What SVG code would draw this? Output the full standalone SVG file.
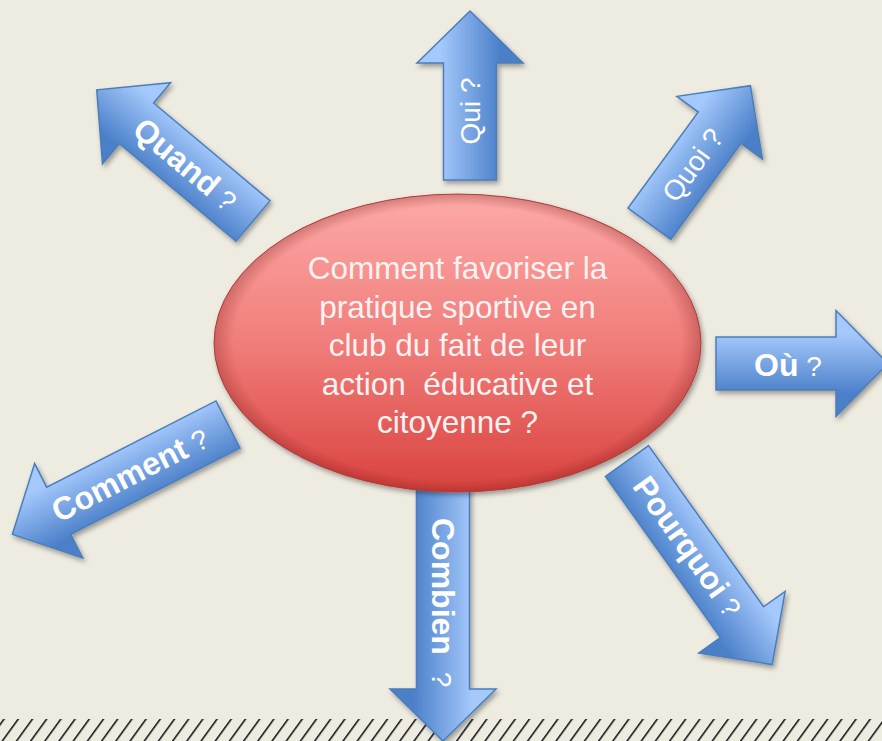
<svg xmlns="http://www.w3.org/2000/svg" width="882" height="741" viewBox="0 0 882 741">
  <defs>
    <style>
      text { font-family: "Liberation Sans", Arial, sans-serif; fill: #ffffff; }
      .lbl { font-size: 28px; }
      .b { font-size: 32px; font-weight: bold; }
      .ctr { font-size: 31.5px; fill: #fdf2f2; text-anchor: middle; }
      .arr { stroke: #4a7ebb; stroke-width: 1.5; stroke-linejoin: miter; }
    </style>
    <linearGradient id="gA" gradientUnits="userSpaceOnUse" x1="0" y1="-30" x2="0" y2="30">
      <stop offset="0" stop-color="#a5c9fc"/>
      <stop offset="1" stop-color="#4b80c9"/>
    </linearGradient>
    <linearGradient id="gB" gradientUnits="userSpaceOnUse" x1="0" y1="-30" x2="0" y2="30">
      <stop offset="0" stop-color="#4b80c9"/>
      <stop offset="1" stop-color="#a5c9fc"/>
    </linearGradient>
    <linearGradient id="gE" x1="0" y1="0" x2="0" y2="1">
      <stop offset="0" stop-color="#fdaaa8"/>
      <stop offset="0.5" stop-color="#f07d7a"/>
      <stop offset="1" stop-color="#d9423e"/>
    </linearGradient>
    <radialGradient id="gRim" cx="0.5" cy="0.5" r="0.5">
      <stop offset="0.92" stop-color="#7a1a18" stop-opacity="0"/>
      <stop offset="1" stop-color="#7a1a18" stop-opacity="0.3"/>
    </radialGradient>
    <filter id="sh" x="-20%" y="-20%" width="140%" height="140%">
      <feDropShadow dx="2" dy="3" stdDeviation="2.5" flood-color="#000" flood-opacity="0.35"/>
    </filter>
    <pattern id="hatch" patternUnits="userSpaceOnUse" width="14.2" height="10" patternTransform="skewX(-36)">
      <rect x="0" y="0" width="2.2" height="10" fill="#2e2e2e"/>
    </pattern>
  </defs>

  <rect width="882" height="741" fill="#eeebe1"/>
  <rect x="0" y="719" width="882" height="22" fill="url(#hatch)"/>

  <g id="arrows">
    <g id="arrow-qui">
      <g filter="url(#sh)"><path class="arr" fill="url(#gA)" transform="translate(470,180) rotate(-90)" d="M0,-26.5 H117 V-53 L169,0 L117,53 V26.5 H0 Z"/></g>
      <g transform="translate(470,180) rotate(-90)"><text class="lbl" x="69" y="10" text-anchor="middle">Qui ?</text></g>
    </g>
    <g id="arrow-quoi">
      <g filter="url(#sh)"><path class="arr" fill="url(#gA)" transform="translate(649.4,223.7) rotate(-53.8)" d="M0,-26.5 H119 V-53 L171,0 L119,53 V26.5 H0 Z"/></g>
      <g transform="translate(649.4,223.7) rotate(-53.8)"><text class="lbl" x="73" y="10" text-anchor="middle">Quoi ?</text></g>
    </g>
    <g id="arrow-ou">
      <g filter="url(#sh)"><path class="arr" fill="url(#gA)" transform="translate(716,363.5)" d="M0,-26.5 H120 V-53 L172,0 L120,53 V26.5 H0 Z"/></g>
      <g transform="translate(716,363.5)"><text class="lbl" x="72" y="12" text-anchor="middle"><tspan class="b">Où</tspan> ?</text></g>
    </g>
    <g id="arrow-pourquoi">
      <g filter="url(#sh)"><path class="arr" fill="url(#gA)" transform="translate(627,461) rotate(54.5)" d="M0,-26.5 H198 V-53 L250,0 L198,53 V26.5 H0 Z"/></g>
      <g transform="translate(627,461) rotate(54.5)"><text class="lbl" x="105" y="11" text-anchor="middle"><tspan class="b">Pourquoi</tspan> ?</text></g>
    </g>
    <g id="arrow-combien">
      <g filter="url(#sh)"><path class="arr" fill="url(#gA)" transform="translate(443,480) rotate(90)" d="M0,-26.5 H209 V-53 L261,0 L209,53 V26.5 H0 Z"/></g>
      <g transform="translate(443,480) rotate(90)"><text class="lbl" x="38" y="11"><tspan class="b">Combien</tspan><tspan dx="9"> ?</tspan></text></g>
    </g>
    <g id="arrow-comment">
      <g filter="url(#sh)"><path class="arr" fill="url(#gB)" transform="translate(228,424.5) rotate(153)" d="M0,-26.5 H190 V-53 L242,0 L190,53 V26.5 H0 Z"/></g>
      <g transform="translate(228,424.5) rotate(153) translate(110,0) rotate(180)"><text class="lbl" x="0" y="11" text-anchor="middle"><tspan class="b">Comment</tspan> ?</text></g>
    </g>
    <g id="arrow-quand">
      <g filter="url(#sh)"><path class="arr" fill="url(#gB)" transform="translate(253,221) rotate(220)" d="M0,-26.5 H152 V-53 L204,0 L152,53 V26.5 H0 Z"/></g>
      <g transform="translate(253,221) rotate(220) translate(88,0) rotate(180)"><text class="lbl" x="0" y="11" text-anchor="middle"><tspan class="b">Quand</tspan> ?</text></g>
    </g>
  </g>

  <g id="center">
    <g filter="url(#sh)">
      <ellipse cx="457.5" cy="343" rx="243.5" ry="149" fill="url(#gE)" stroke="#b8453f" stroke-width="1"/>
    </g>
    <ellipse cx="457.5" cy="343" rx="243.5" ry="149" fill="url(#gRim)"/>
    <text class="ctr" x="457.5" y="279">Comment favoriser la</text>
    <text class="ctr" x="457.5" y="317.5">pratique sportive en</text>
    <text class="ctr" x="457.5" y="356">club du fait de leur</text>
    <text class="ctr" x="457.5" y="394.5" xml:space="preserve">action  éducative et</text>
    <text class="ctr" x="457.5" y="433">citoyenne ?</text>
  </g>
</svg>
